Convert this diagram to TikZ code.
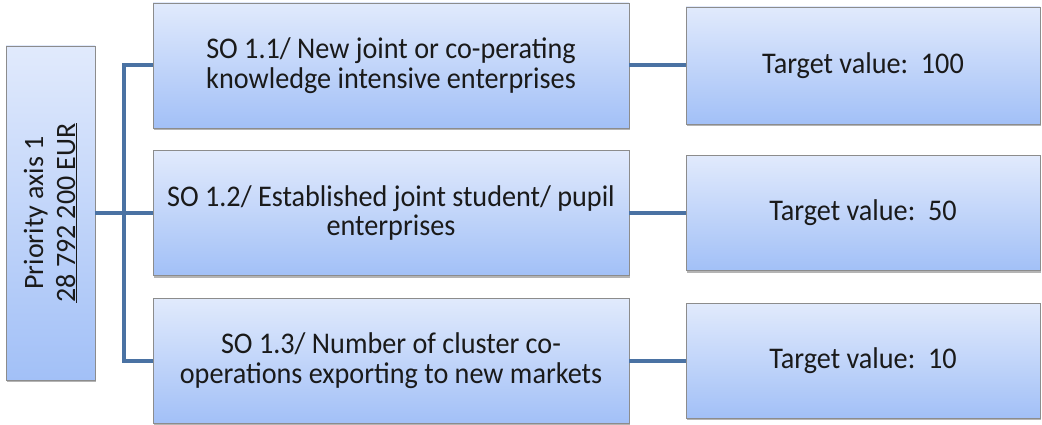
\documentclass[tikz,border=0pt]{standalone}
\usepackage{fontspec}
\setmainfont{Carlito}
\newfontfamily\hfont{Carlito}[FakeStretch=0.94]
\newfontfamily\vfont{Carlito}
\usetikzlibrary{shadows}
\definecolor{boxtop}{HTML}{E1EAFC}
\definecolor{boxbot}{HTML}{A2C0F7}
\definecolor{boxline}{HTML}{8C8C8C}
\definecolor{conn}{HTML}{4A72A3}
\definecolor{txt}{HTML}{1A1A1A}
\begin{document}
\begin{tikzpicture}[x=1pt,y=1pt,
  gbox/.style={draw=boxline, line width=0.8pt, top color=boxtop, bottom color=boxbot,
    inner sep=0pt, align=center, text=txt,
    drop shadow={shadow xshift=1.2pt, shadow yshift=-2.2pt, opacity=0.45, fill=black!65}},
  htext/.style={font=\hfont\fontsize{30}{29.5}\selectfont},
  vtext/.style={font=\vfont\fontsize{28}{32}\selectfont, text=txt, align=center, inner sep=0pt},
  conline/.style={draw=conn, line width=4pt}]
\useasboundingbox (0,0) rectangle (1042,-425);

% left priority box
\node[gbox, minimum width=89pt, minimum height=334pt] (P) at (50.5,-213) {};
\node[vtext, rotate=90] (Plabel) at (P.center) {Priority axis 1\\\underline{28 792 200 EUR}};

% SO boxes
\node[gbox, htext, minimum width=476pt, minimum height=125pt] (S1) at (391,-65.5)
  {SO 1.1/ New joint or co-perating\\knowledge intensive enterprises};
\node[gbox, htext, minimum width=476pt, minimum height=125pt] (S2) at (391,-213)
  {SO 1.2/ Established joint student/ pupil\\enterprises};
\node[gbox, htext, minimum width=476pt, minimum height=125pt] (S3) at (391,-360.5)
  {SO 1.3/ Number of cluster co-\\operations exporting to new markets};

% target boxes
\node[gbox, htext, minimum width=354pt, minimum height=117pt] (T1) at (863,-65.5)
  {Target value:\ \ 100};
\node[gbox, htext, minimum width=354pt, minimum height=115pt] (T2) at (863,-213)
  {Target value:\ \ 50};
\node[gbox, htext, minimum width=354pt, minimum height=115pt] (T3) at (863,-360.5)
  {Target value:\ \ 10};

% connectors
\draw[conline] (S1.west) -- ++(-29,0) |- (S3.west);
\draw[conline] (P.east) -- (S2.west);
\draw[conline] (S1.east) -- (T1.west);
\draw[conline] (S2.east) -- (T2.west);
\draw[conline] (S3.east) -- (T3.west);
\end{tikzpicture}
\end{document}
